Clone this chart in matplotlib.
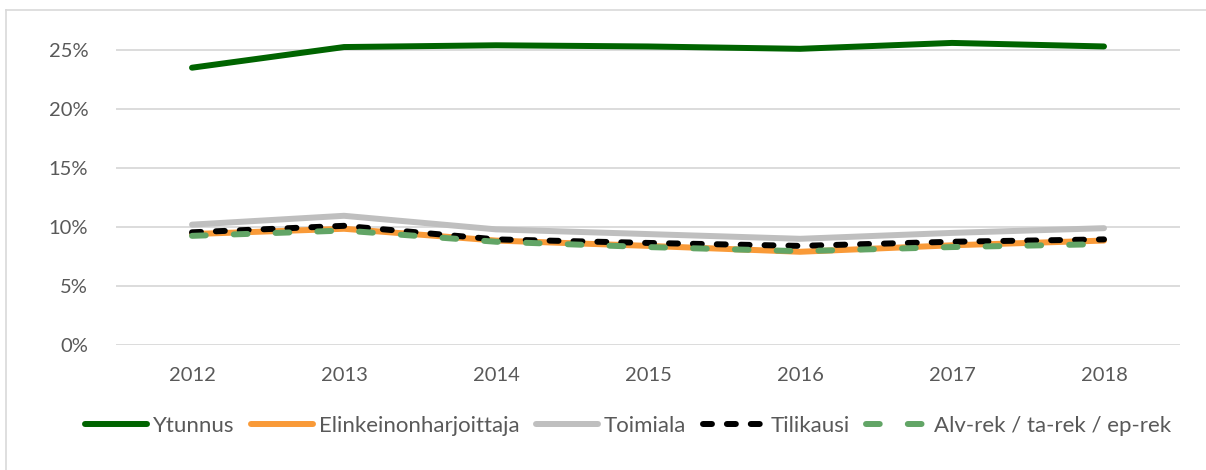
import numpy as np
import matplotlib.pyplot as plt
from matplotlib.lines import Line2D
from matplotlib.ticker import PercentFormatter

plt.rcParams['font.family'] = ['Lato', 'DejaVu Sans']

years = ["2012", "2013", "2014", "2015", "2016", "2017", "2018"]

ytunnus = [23.5, 25.25, 25.4, 25.3, 25.1, 25.6, 25.3]
elinkeinonharjoittaja = [9.4, 9.85, 8.85, 8.4, 7.9, 8.45, 8.85]
toimiala = [10.2, 10.95, 9.8, 9.4, 9.0, 9.5, 9.9]
tilikausi = [9.55, 10.1, 8.95, 8.65, 8.4, 8.75, 8.95]
alv_rek = [9.25, 9.7, 8.75, 8.3, 7.95, 8.3, 8.55]

W, H = 1206, 470
fig = plt.figure(figsize=(W / 100, H / 100), dpi=100)
ax = fig.add_axes([116 / W, 1 - 345 / H, (1180 - 116) / W, (345 - 26.4) / H])

x = np.arange(len(years))
lw = 4.3
ax.plot(x, ytunnus, color="#006400", lw=lw, solid_capstyle="round",
        label="Ytunnus", zorder=3)
ax.plot(x, elinkeinonharjoittaja, color="#F99A38", lw=lw, solid_capstyle="round",
        label="Elinkeinonharjoittaja", zorder=3)
ax.plot(x, toimiala, color="#BFBFBF", lw=lw, solid_capstyle="round",
        label="Toimiala", zorder=3)
ax.plot(x, tilikausi, color="black", lw=lw, dashes=(1.5, 2.5),
        dash_capstyle="round", label="Tilikausi", zorder=4)
ax.plot(x, alv_rek, color="#62A566", lw=lw, dashes=(2.3, 4.7),
        dash_capstyle="round", label="Alv-rek / ta-rek / ep-rek", zorder=5)

ax.set_xlim(-0.5, len(years) - 0.5)
ax.set_ylim(0, 27)
ax.set_yticks([0, 5, 10, 15, 20, 25])
ax.yaxis.set_major_formatter(PercentFormatter(decimals=0))
ax.set_xticks(x)
ax.set_xticklabels(years)
ax.grid(axis="y", color="#D9D9D9", lw=1.3, zorder=0)
ax.tick_params(length=0, labelsize=14.5, colors="#595959")
ax.tick_params(axis="y", pad=20)
ax.tick_params(axis="x", pad=16)
for s in ax.spines.values():
    s.set_visible(False)

# chart-area border (cropped on the right and bottom)
fig.add_artist(Line2D([6 / W, 6 / W], [0, 1 - 10 / H], color="#D9D9D9", lw=1.2))
fig.add_artist(Line2D([6 / W, 1], [1 - 10 / H, 1 - 10 / H], color="#D9D9D9", lw=1.2))

fig.legend(loc="center", bbox_to_anchor=(628 / W, 1 - 426 / H), ncol=5,
           frameon=False, fontsize=16, handlelength=2.8, handletextpad=0.25,
           columnspacing=0.75, labelcolor="#595959")

fig.savefig("out.png", dpi=100)
